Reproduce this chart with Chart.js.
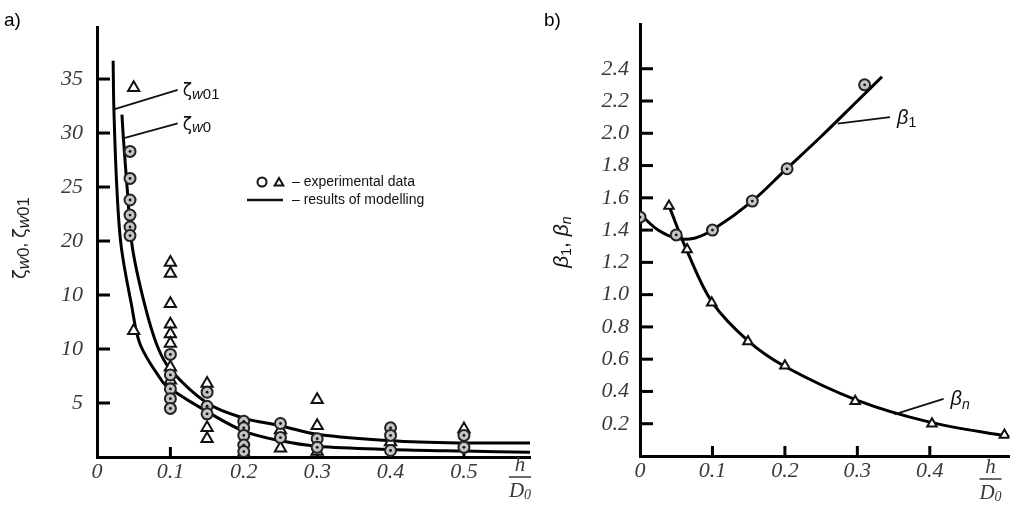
<!DOCTYPE html>
<html>
<head>
<meta charset="utf-8">
<script src="https://cdn.jsdelivr.net/npm/chart.js@4.4.1/dist/chart.umd.min.js"></script>
<style>
html, body { margin: 0; padding: 0; background: #fff; }
#wrap { position: relative; width: 1017px; height: 507px; overflow: hidden; }
canvas { position: absolute; top: 0; }
#chartA { left: 0; }
#chartB { left: 540px; }
</style>
</head>
<body>
<div id="wrap">
  <canvas id="chartA" width="540" height="507"></canvas>
  <canvas id="chartB" width="477" height="507"></canvas>
</div>
<script>
// ---- panel a) : zeta_w0, zeta_w01 vs h/D0
const xTicksA = [0, 0.1, 0.2, 0.3, 0.4, 0.5];
const yTicksA = [5, 10, 15, 20, 25, 30, 35];
const yLabelsA = ['5', '10', '10', '20', '25', '30', '35'];

const circlesAX = [0.045, 0.045, 0.045, 0.045, 0.045, 0.045, 0.1, 0.1, 0.1, 0.1, 0.1, 0.15, 0.15, 0.15,
  0.2, 0.2, 0.2, 0.2, 0.2, 0.25, 0.25, 0.3, 0.3, 0.4, 0.4, 0.4, 0.5, 0.5];
const circlesAY = [28.3, 25.8, 23.8, 22.4, 21.3, 20.5, 9.5, 7.6, 6.3, 5.4, 4.5, 6.0, 4.7, 4.0,
  3.3, 2.7, 2.0, 1.1, 0.5, 3.1, 1.8, 1.7, 0.9, 2.7, 2.0, 0.6, 2.0, 0.9];

const trianglesAX = [0.05, 0.05, 0.1, 0.1, 0.1, 0.1, 0.1, 0.1, 0.1, 0.1, 0.15, 0.15, 0.15,
  0.2, 0.25, 0.25, 0.3, 0.3, 0.3, 0.4, 0.5];
const trianglesAY = [34.2, 11.7, 18.0, 17.0, 14.2, 12.3, 11.4, 10.5, 8.3, 7.1, 6.8, 2.7, 1.7,
  0.4, 2.5, 0.8, 5.3, 2.9, 0.5, 1.4, 2.6];

const zw0X = [0.034, 0.036, 0.041, 0.048, 0.065, 0.082, 0.100, 0.150, 0.200, 0.250, 0.300, 0.400, 0.500, 0.590];
const zw0Y = [31.7, 29.5, 25.0, 19.5, 14.1, 10.3, 8.1, 5.0, 3.6, 2.9, 2.1, 1.5, 1.3, 1.3];

const zw01X = [0.022, 0.023, 0.027, 0.033, 0.047, 0.059, 0.090, 0.100, 0.150, 0.200, 0.250, 0.300, 0.400, 0.500, 0.590];
const zw01Y = [36.7, 32.2, 25.0, 19.5, 14.1, 10.4, 6.9, 6.3, 4.2, 2.4, 1.5, 1.0, 0.7, 0.55, 0.45];

// ---- panel b) : beta_1, beta_n vs h/D0
const xTicksB = [0, 0.1, 0.2, 0.3, 0.4];
const yTicksB = [0.2, 0.4, 0.6, 0.8, 1.0, 1.2, 1.4, 1.6, 1.8, 2.0, 2.2, 2.4];

const beta1PtsX = [0, 0.05, 0.1, 0.155, 0.203, 0.31];
const beta1PtsY = [1.48, 1.37, 1.40, 1.58, 1.78, 2.30];
const beta1CurveX = [0, 0.025, 0.05, 0.075, 0.1, 0.155, 0.2, 0.25, 0.3, 0.334];
const beta1CurveY = [1.50, 1.40, 1.35, 1.35, 1.40, 1.58, 1.77, 1.98, 2.20, 2.35];

const betaNPtsX = [0.04, 0.065, 0.099, 0.149, 0.2, 0.297, 0.403, 0.503];
const betaNPtsY = [1.55, 1.28, 0.95, 0.71, 0.56, 0.34, 0.20, 0.13];
const betaNCurveX = [0.04, 0.065, 0.1, 0.15, 0.2, 0.3, 0.4, 0.51];
const betaNCurveY = [1.55, 1.27, 0.95, 0.71, 0.555, 0.345, 0.21, 0.12];

const pts = (xs, ys) => xs.map((x, i) => ({ x: x, y: ys[i] }));
const fmt = v => (v === 0 ? '0' : v.toFixed(1));

const tickFont = { family: 'Liberation Serif', style: 'italic', size: 22 };
const tickColor = '#3a3a3a';

// helpers for labels with subscripts
function drawParts(ctx, parts, x, y, align) {
  let w = 0;
  parts.forEach(p => { ctx.font = p.font; w += ctx.measureText(p.t).width; });
  let cx = align === 'center' ? x - w / 2 : x;
  ctx.textAlign = 'left';
  ctx.textBaseline = 'middle';
  parts.forEach(p => {
    ctx.font = p.font;
    ctx.fillText(p.t, cx, y + (p.dy || 0));
    cx += ctx.measureText(p.t).width;
  });
}

function line(ctx, x1, y1, x2, y2, w) {
  ctx.beginPath();
  ctx.lineWidth = w;
  ctx.moveTo(x1, y1);
  ctx.lineTo(x2, y2);
  ctx.stroke();
}

function fraction(ctx, xc, top) {
  ctx.fillStyle = tickColor;
  ctx.strokeStyle = tickColor;
  drawParts(ctx, [{ t: 'h', font: 'italic 21px "Liberation Serif"' }], xc, top, 'center');
  line(ctx, xc - 11, top + 12, xc + 11, top + 12, 1.5);
  drawParts(ctx, [
    { t: 'D', font: 'italic 21px "Liberation Serif"' },
    { t: '0', font: 'italic 14px "Liberation Serif"', dy: 4 }
  ], xc, top + 26, 'center');
}

// ticks pointing into the plot area
const innerTicks = {
  id: 'innerTicks',
  beforeDatasetsDraw(chart, args, opts) {
    const { ctx, chartArea: a, scales: { x, y } } = chart;
    ctx.save();
    ctx.strokeStyle = '#000';
    y.ticks.forEach(t => {
      const py = y.getPixelForValue(t.value);
      line(ctx, a.left, py, a.left + opts.len, py, 3);
    });
    x.ticks.forEach(t => {
      if (t.value === 0) return;
      const px = x.getPixelForValue(t.value);
      line(ctx, px, a.bottom, px, a.bottom - 10, 3);
    });
    ctx.restore();
  }
};

function axisOpts(min, max, ticks, labelCb, pad, fit) {
  return {
    type: 'linear',
    min: min,
    max: max,
    afterBuildTicks: s => { s.ticks = ticks.map(v => ({ value: v })); },
    afterFit: fit,
    grid: { display: false, drawTicks: false },
    border: { display: true, color: '#000', width: 3 },
    ticks: { callback: labelCb, color: tickColor, font: tickFont, padding: pad, autoSkip: false, maxRotation: 0 }
  };
}

const circleStyle = {
  type: 'scatter', pointStyle: 'circle', pointRadius: 5.5, pointBorderWidth: 2,
  pointBorderColor: '#222', pointBackgroundColor: '#c4c4c4', showLine: false, order: 1
};
const dotStyle = {
  type: 'scatter', pointStyle: 'circle', pointRadius: 1.4, pointBorderWidth: 0,
  pointBackgroundColor: '#111', showLine: false, order: 0
};
const triStyle = {
  type: 'scatter', pointStyle: 'triangle', pointRadius: 6.5, pointBorderWidth: 2,
  pointBorderColor: '#111', pointBackgroundColor: '#fff', showLine: false, order: 1
};
const curveStyle = {
  type: 'scatter', showLine: true, pointRadius: 0, borderColor: '#000', borderWidth: 3,
  tension: 0.35, order: 3, clip: 0
};

// ---- panel a labels, legend, leaders
const zLeaders = [
  { from: [0.023, 32.2], to: [0.11, 34.0], sub: '01' },
  { from: [0.0355, 29.5], to: [0.11, 30.9], sub: '0' }
];

const panelA = {
  id: 'panelA',
  afterDraw(chart) {
    const { ctx, chartArea: a, scales: { x, y } } = chart;
    ctx.save();
    ctx.fillStyle = '#000';
    ctx.strokeStyle = '#000';
    drawParts(ctx, [{ t: 'a)', font: '19px "Liberation Sans"' }], 4, 21, 'left');

    // leaders to the two curves
    zLeaders.forEach(l => {
      const x1 = x.getPixelForValue(l.from[0]), y1 = y.getPixelForValue(l.from[1]);
      const x2 = x.getPixelForValue(l.to[0]), y2 = y.getPixelForValue(l.to[1]);
      ctx.strokeStyle = '#111';
      line(ctx, x1, y1, x2, y2, 1.8);
      ctx.fillStyle = '#111';
      drawParts(ctx, [
        { t: 'ζ', font: '17px "DejaVu Sans"' },
        { t: 'w', font: 'italic 15px "Liberation Sans"', dy: 3 },
        { t: l.sub, font: '15px "Liberation Sans"', dy: 3 }
      ], x2 + 5, y2 + 2, 'left');
    });

    // legend
    const lx = 262, ly = 182;
    ctx.strokeStyle = '#111';
    ctx.fillStyle = '#fff';
    ctx.lineWidth = 2;
    Chart.helpers.drawPoint(ctx, { pointStyle: 'circle', radius: 4.5, borderWidth: 2 }, lx, ly);
    Chart.helpers.drawPoint(ctx, { pointStyle: 'triangle', radius: 5, borderWidth: 2 }, lx + 17, ly + 1);
    ctx.fillStyle = '#111';
    drawParts(ctx, [{ t: '– experimental data', font: '14px "Liberation Sans"' }], lx + 30, ly, 'left');
    line(ctx, lx - 15, ly + 18, lx + 21, ly + 18, 2.5);
    drawParts(ctx, [{ t: '– results of modelling', font: '14px "Liberation Sans"' }], lx + 30, ly + 18, 'left');

    // y-axis title
    ctx.save();
    ctx.translate(21, (a.top + a.bottom) / 2 - 4);
    ctx.rotate(-Math.PI / 2);
    ctx.fillStyle = '#222';
    drawParts(ctx, [
      { t: 'ζ', font: '18px "DejaVu Sans"' },
      { t: 'w', font: 'italic 17px "Liberation Sans"', dy: 3 },
      { t: '0', font: '17px "Liberation Sans"', dy: 3 },
      { t: ', ', font: '17px "Liberation Sans"' },
      { t: 'ζ', font: '18px "DejaVu Sans"' },
      { t: 'w', font: 'italic 17px "Liberation Sans"', dy: 3 },
      { t: '01', font: '17px "Liberation Sans"', dy: 3 }
    ], 0, 0, 'center');
    ctx.restore();

    fraction(ctx, a.right - 10, 465);
    ctx.restore();
  }
};

// ---- panel b labels and leaders
const bLeaders = [
  { from: [0.273, 2.06], to: [0.345, 2.10], sub: '1' },
  { from: [0.351, 0.258], to: [0.419, 0.354], sub: 'n' }
];

const panelB = {
  id: 'panelB',
  afterDraw(chart) {
    const { ctx, chartArea: a, scales: { x, y } } = chart;
    ctx.save();
    ctx.fillStyle = '#000';
    drawParts(ctx, [{ t: 'b)', font: '19px "Liberation Sans"' }], 4, 21, 'left');

    bLeaders.forEach(l => {
      const x1 = x.getPixelForValue(l.from[0]), y1 = y.getPixelForValue(l.from[1]);
      const x2 = x.getPixelForValue(l.to[0]), y2 = y.getPixelForValue(l.to[1]);
      ctx.strokeStyle = '#111';
      line(ctx, x1, y1, x2, y2, 1.8);
      ctx.fillStyle = '#111';
      drawParts(ctx, [
        { t: 'β', font: 'italic 20px "Liberation Sans"' },
        { t: l.sub, font: (l.sub === 'n' ? 'italic ' : '') + '14px "Liberation Sans"', dy: 5 }
      ], x2 + 7, y2 + 1, 'left');
    });

    ctx.save();
    ctx.translate(22, (a.top + a.bottom) / 2 + 2);
    ctx.rotate(-Math.PI / 2);
    ctx.fillStyle = '#111';
    drawParts(ctx, [
      { t: 'β', font: 'italic 21px "Liberation Sans"' },
      { t: '1', font: '14px "Liberation Sans"', dy: 5 },
      { t: ', ', font: '21px "Liberation Sans"' },
      { t: 'β', font: 'italic 21px "Liberation Sans"' },
      { t: 'n', font: 'italic 14px "Liberation Sans"', dy: 5 }
    ], 0, 0, 'center');
    ctx.restore();

    fraction(ctx, a.right - 19, 467);
    ctx.restore();
  }
};

const common = {
  responsive: false,
  animation: false,
  events: [],
  plugins: { legend: { display: false }, tooltip: { enabled: false }, innerTicks: { len: 13 } }
};

new Chart(document.getElementById('chartA').getContext('2d'), {
  type: 'scatter',
  data: {
    datasets: [
      Object.assign({ label: 'ζw0', data: pts(zw0X, zw0Y) }, curveStyle),
      Object.assign({ label: 'ζw01', data: pts(zw01X, zw01Y) }, curveStyle),
      Object.assign({ label: 'circles', data: pts(circlesAX, circlesAY) }, circleStyle),
      Object.assign({ label: 'circle dots', data: pts(circlesAX, circlesAY) }, dotStyle),
      Object.assign({ label: 'triangles', data: pts(trianglesAX, trianglesAY) }, triStyle)
    ]
  },
  options: Object.assign({}, common, {
    layout: { padding: { left: 0, top: 15, right: 10, bottom: 0 } },
    scales: {
      x: axisOpts(0, 0.59, xTicksA, v => fmt(v), 2, s => { s.height = 50; }),
      y: axisOpts(0, 39.8, yTicksA, (v, i) => yLabelsA[i], 14, s => { s.width = 97; })
    }
  }),
  plugins: [innerTicks, panelA]
});

new Chart(document.getElementById('chartB').getContext('2d'), {
  type: 'scatter',
  data: {
    datasets: [
      Object.assign({ label: 'β1', data: pts(beta1CurveX, beta1CurveY) }, curveStyle),
      Object.assign({ label: 'βn', data: pts(betaNCurveX, betaNCurveY) }, curveStyle),
      Object.assign({ label: 'β1 data', data: pts(beta1PtsX, beta1PtsY) }, circleStyle),
      Object.assign({ label: 'β1 dots', data: pts(beta1PtsX, beta1PtsY) }, dotStyle),
      Object.assign({ label: 'βn data', data: pts(betaNPtsX, betaNPtsY) }, triStyle, { pointRadius: 5.5 })
    ]
  },
  options: Object.assign({}, common, {
    layout: { padding: { left: 0, top: 10, right: 0, bottom: 0 } },
    scales: {
      x: axisOpts(0, 0.51, xTicksB, v => fmt(v), 2, s => { s.height = 51; }),
      y: axisOpts(0, 2.676, yTicksB, v => v.toFixed(1), 11, s => { s.width = 100; })
    }
  }),
  plugins: [innerTicks, panelB]
});
</script>
</body>
</html>
